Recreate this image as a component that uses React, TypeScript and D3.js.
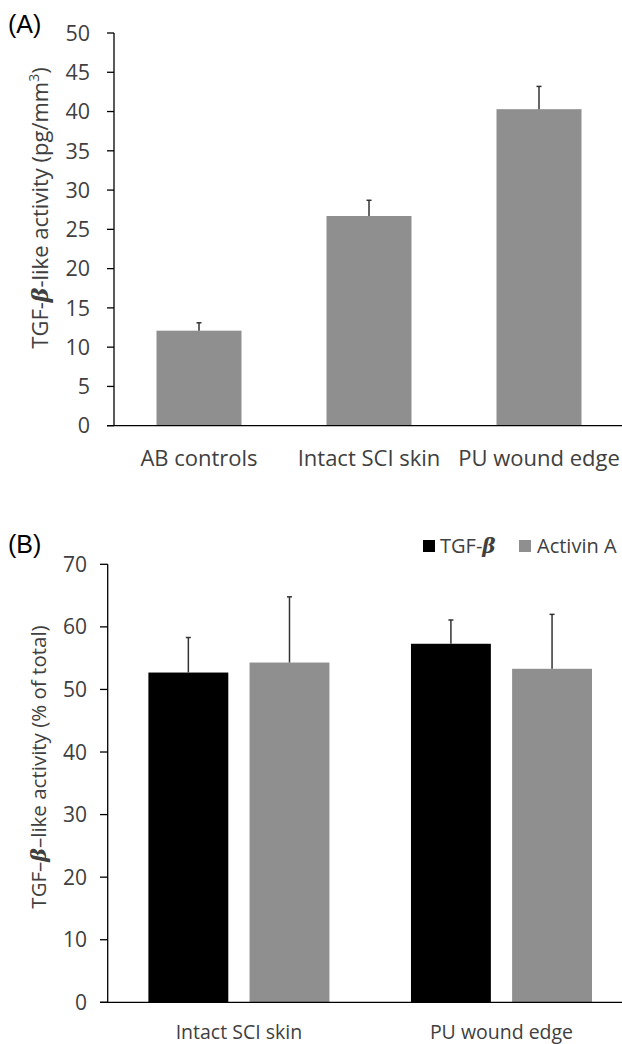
import React from "react";
import * as d3 from "d3";

// Panel A data
const catsA = ["AB controls", "Intact SCI skin", "PU wound edge"];
const valsA = [12.1, 26.7, 40.3];
const errA = [1.0, 2.0, 2.9];
const ticksA = [0, 5, 10, 15, 20, 25, 30, 35, 40, 45, 50];

// Panel B data
const catsB = ["Intact SCI skin", "PU wound edge"];
const seriesB = ["TGF-β", "Activin A"];
const tgfB = [52.7, 57.3];
const tgfErrB = [5.6, 3.8];
const actB = [54.3, 53.3];
const actErrB = [10.5, 8.7];
const ticksB = [0, 10, 20, 30, 40, 50, 60, 70];

const FONT = "'Open Sans', sans-serif";
const TXT = "#404040";
const GRAY = "#8f8f8f";

export default function App() {
  // Panel A scales
  const xA = d3.scaleBand<string>().domain(catsA).range([114, 624]).paddingInner(0.5).paddingOuter(0.25);
  const yA = d3.scaleLinear().domain([0, 50]).range([425.7, 33]);

  // Panel B scales
  const x0B = d3.scaleBand<string>().domain(catsB).range([107.7, 632.7]).paddingInner(0.3105).paddingOuter(0.155);
  const x1B = d3.scaleBand<string>().domain(seriesB).range([0, x0B.bandwidth()]).paddingInner(0.21);
  const yB = d3.scaleLinear().domain([0, 70]).range([1002.3, 564.3]);
  const colorsB: Record<string, string> = { "TGF-β": "#000000", "Activin A": GRAY };
  const dataB = [
    { s: "TGF-β", v: tgfB, e: tgfErrB },
    { s: "Activin A", v: actB, e: actErrB },
  ];

  const errBar = (cx: number, y0: number, y1: number, key: string) => (
    <g key={key} stroke="#333" strokeWidth={1.5}>
      <line x1={cx} x2={cx} y1={y0} y2={y1} />
      <line x1={cx - 2.5} x2={cx + 2.5} y1={y1} y2={y1} />
    </g>
  );

  return (
    <svg width={622} height={1044} style={{ position: "absolute", left: 0, top: 0, background: "#fff" }}>
      <rect width={622} height={1044} fill="#fff" />
      {/* Panel A */}
      <text x={8} y={33} fontFamily="'Liberation Sans', Arial, sans-serif" fontSize={25} fill="#000">(A)</text>
      {catsA.map((c, i) => (
        <rect key={c} x={xA(c)} y={yA(valsA[i])} width={xA.bandwidth()} height={yA(0) - yA(valsA[i])} fill={GRAY} />
      ))}
      {catsA.map((c, i) => errBar(xA(c)! + xA.bandwidth() / 2, yA(valsA[i]), yA(valsA[i] + errA[i]), "ea" + i))}
      <line x1={114} x2={114} y1={yA(50)} y2={yA(0)} stroke="#000" strokeWidth={1.3} />
      <line x1={107} x2={624} y1={yA(0)} y2={yA(0)} stroke="#000" strokeWidth={1.3} />
      {ticksA.map((t) => (
        <g key={"ta" + t}>
          <line x1={107} x2={114} y1={yA(t)} y2={yA(t)} stroke="#000" strokeWidth={1.3} />
          <text x={90} y={yA(t)} dy="0.36em" textAnchor="end" fontFamily={FONT} fontSize={21.5} fill={TXT}>{t}</text>
        </g>
      ))}
      {catsA.map((c) => (
        <text key={"la" + c} x={xA(c)! + xA.bandwidth() / 2} y={466} textAnchor="middle" fontFamily={FONT} fontSize={22} fill={TXT}>{c}</text>
      ))}
      <text transform="translate(48,208) rotate(-90)" textAnchor="middle" fontFamily={FONT} fontSize={22} fill={TXT}>
        TGF-<tspan fontWeight="bold" fontStyle="italic" fontFamily="'DejaVu Serif', serif">β</tspan>-like activity (pg/mm<tspan fontSize={14} dy={-9}>3</tspan><tspan dy={9}>)</tspan>
      </text>

      {/* Panel B */}
      <text x={8} y={553} fontFamily="'Liberation Sans', Arial, sans-serif" fontSize={25} fill="#000">(B)</text>
      {catsB.map((c, i) =>
        dataB.map((d) => (
          <rect key={c + d.s} x={x0B(c)! + x1B(d.s)!} y={yB(d.v[i])} width={x1B.bandwidth()} height={yB(0) - yB(d.v[i])} fill={colorsB[d.s]} />
        ))
      )}
      {catsB.map((c, i) =>
        dataB.map((d) => errBar(x0B(c)! + x1B(d.s)! + x1B.bandwidth() / 2, yB(d.v[i]), yB(d.v[i] + d.e[i]), "eb" + c + d.s))
      )}
      <line x1={107.7} x2={107.7} y1={yB(70)} y2={yB(0)} stroke="#000" strokeWidth={1.3} />
      <line x1={100} x2={632} y1={yB(0)} y2={yB(0)} stroke="#000" strokeWidth={1.3} />
      {ticksB.map((t) => (
        <g key={"tb" + t}>
          <line x1={100} x2={107.7} y1={yB(t)} y2={yB(t)} stroke="#000" strokeWidth={1.3} />
          <text x={87} y={yB(t)} dy="0.36em" textAnchor="end" fontFamily={FONT} fontSize={21} fill={TXT}>{t}</text>
        </g>
      ))}
      {catsB.map((c) => (
        <text key={"lb" + c} x={x0B(c)! + x0B.bandwidth() / 2} y={1039} textAnchor="middle" fontFamily={FONT} fontSize={19.5} fill={TXT}>{c}</text>
      ))}
      <text transform="translate(46,767) rotate(-90)" textAnchor="middle" fontFamily={FONT} fontSize={20.5} fill={TXT}>
        TGF–<tspan fontWeight="bold" fontStyle="italic" fontFamily="'DejaVu Serif', serif">β</tspan>–like activity (% of total)
      </text>
      {/* Legend */}
      {seriesB.map((s, i) => (
        <g key={"lg" + s}>
          <rect x={i === 0 ? 423 : 519} y={540} width={12} height={12} fill={colorsB[s]} />
          <text x={i === 0 ? 440 : 537} y={553} fontFamily={FONT} fontSize={20} fill={TXT}>
            {s === "TGF-β" ? (
              <>TGF-<tspan fontWeight="bold" fontStyle="italic" fontFamily="'DejaVu Serif', serif">β</tspan></>
            ) : s}
          </text>
        </g>
      ))}
    </svg>
  );
}
